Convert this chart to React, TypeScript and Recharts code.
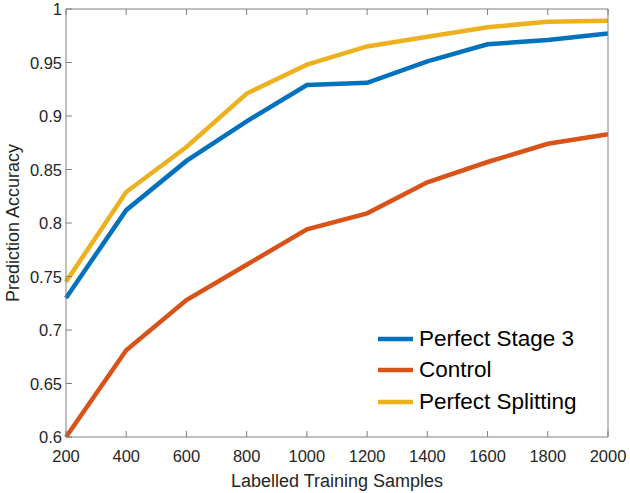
import React from "react";
import { LineChart, Line, XAxis, YAxis, Legend, Label } from "recharts";

const SAMPLES = [200, 400, 600, 800, 1000, 1200, 1400, 1600, 1800, 2000];
const STAGE3 = [0.73, 0.812, 0.858, 0.895, 0.929, 0.931, 0.951, 0.967, 0.971, 0.977];
const CONTROL = [0.6, 0.681, 0.728, 0.761, 0.794, 0.809, 0.838, 0.857, 0.874, 0.883];
const SPLITTING = [0.745, 0.829, 0.871, 0.921, 0.948, 0.965, 0.974, 0.983, 0.988, 0.989];
const Y_TICKS = [0.6, 0.65, 0.7, 0.75, 0.8, 0.85, 0.9, 0.95, 1];

const SERIES = [
  { key: "stage3", name: "Perfect Stage 3", color: "#0072BD" },
  { key: "control", name: "Control", color: "#D95319" },
  { key: "splitting", name: "Perfect Splitting", color: "#EDB120" },
];

const data = SAMPLES.map((s, i) => ({
  samples: s,
  stage3: STAGE3[i],
  control: CONTROL[i],
  splitting: SPLITTING[i],
}));

const FONT = "'Liberation Sans', Arial, sans-serif";
const TEXT = "#262626";
const AXIS = "#808080";
const TICK_LEN = 6;

// ticks point inward, like matlab
function BottomTick({ x, y, payload }: any) {
  const axisY = y - 16;
  return (
    <g>
      <line x1={x} y1={axisY} x2={x} y2={axisY - TICK_LEN} stroke={AXIS} />
      <text x={x} y={axisY + 25} textAnchor="middle" fill={TEXT} fontSize={16.5} fontFamily={FONT}>
        {payload.value}
      </text>
    </g>
  );
}

function TopTick({ x, y }: any) {
  const axisY = y + 16;
  return <line x1={x} y1={axisY} x2={x} y2={axisY + TICK_LEN} stroke={AXIS} />;
}

function LeftTick({ x, y, payload }: any) {
  const axisX = x + 10;
  return (
    <g>
      <line x1={axisX} y1={y} x2={axisX + TICK_LEN} y2={y} stroke={AXIS} />
      <text x={axisX - 4} y={y} textAnchor="end" dominantBaseline="central" fill={TEXT} fontSize={16.5} fontFamily={FONT}>
        {payload.value}
      </text>
    </g>
  );
}

function RightTick({ x, y }: any) {
  const axisX = x - 10;
  return <line x1={axisX} y1={y} x2={axisX - TICK_LEN} y2={y} stroke={AXIS} />;
}

function LegendBox() {
  return (
    <div style={{ fontFamily: FONT, fontSize: 22.5, color: "#000" }}>
      {SERIES.map((s) => (
        <div key={s.key} style={{ display: "flex", alignItems: "center", height: 31.5 }}>
          <svg width={38} height={10} style={{ marginRight: 4 }}>
            <line x1={1} y1={5} x2={36} y2={5} stroke={s.color} strokeWidth={4.5} />
          </svg>
          <span>{s.name}</span>
        </div>
      ))}
    </div>
  );
}

export default function App() {
  return (
    <div style={{ position: "absolute", left: 0, top: 0, width: 630, height: 493, background: "#fff" }}>
      <LineChart width={630} height={493} data={data} margin={{ top: 8, right: 0, bottom: 0, left: 0 }}>
        <XAxis
          xAxisId="bottom"
          dataKey="samples"
          type="number"
          domain={[200, 2000]}
          ticks={SAMPLES}
          height={56}
          stroke={AXIS}
          tickLine={false}
          tickSize={0}
          tickMargin={16}
          tick={BottomTick}
        >
          <Label
            value="Labelled Training Samples"
            position="insideBottom"
            offset={6}
            style={{ fill: TEXT, fontSize: 18, fontFamily: FONT }}
          />
        </XAxis>
        <XAxis
          xAxisId="top"
          orientation="top"
          dataKey="samples"
          type="number"
          domain={[200, 2000]}
          ticks={SAMPLES}
          height={1}
          stroke={AXIS}
          tickLine={false}
          tickSize={0}
          tickMargin={16}
          tick={TopTick}
        />
        <YAxis
          yAxisId="left"
          type="number"
          domain={[0.6, 1]}
          ticks={Y_TICKS}
          width={66}
          stroke={AXIS}
          tickLine={false}
          tickSize={0}
          tickMargin={10}
          tick={LeftTick}
        >
          <Label
            content={({ viewBox }: any) => {
              const cx = viewBox.x + 13;
              const cy = viewBox.y + viewBox.height / 2;
              return (
                <text
                  x={cx}
                  y={cy}
                  transform={`rotate(-90 ${cx} ${cy})`}
                  textAnchor="middle"
                  dominantBaseline="central"
                  fill={TEXT}
                  fontSize={18}
                  fontFamily={FONT}
                >
                  Prediction Accuracy
                </text>
              );
            }}
          />
        </YAxis>
        <YAxis
          yAxisId="right"
          orientation="right"
          type="number"
          domain={[0.6, 1]}
          ticks={Y_TICKS}
          width={22}
          stroke={AXIS}
          tickLine={false}
          tickSize={0}
          tickMargin={10}
          tick={RightTick}
        />
        {SERIES.map((s) => (
          <Line
            key={s.key}
            xAxisId="bottom"
            yAxisId="left"
            type="linear"
            dataKey={s.key}
            name={s.name}
            stroke={s.color}
            strokeWidth={4.5}
            dot={false}
            isAnimationActive={false}
          />
        ))}
        <Legend
          layout="vertical"
          align="center"
          verticalAlign="middle"
          content={() => <LegendBox />}
          wrapperStyle={{ left: 377, top: 323, width: 231 }}
        />
      </LineChart>
    </div>
  );
}
